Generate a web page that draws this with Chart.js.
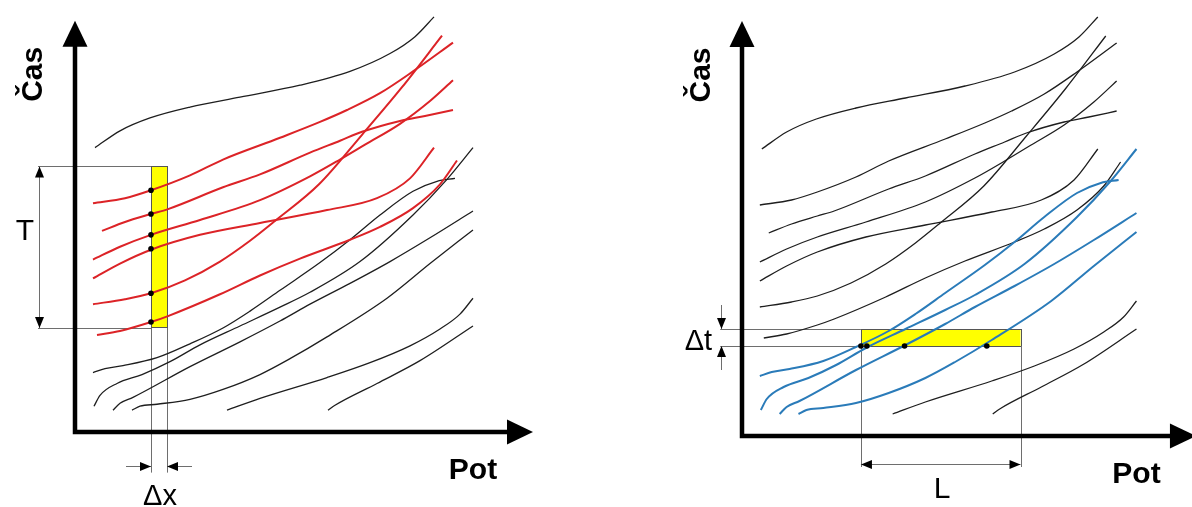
<!DOCTYPE html>
<html lang="cs">
<head>
<meta charset="utf-8">
<script src="https://cdn.jsdelivr.net/npm/chart.js@4.4.1/dist/chart.umd.min.js"></script>
<style>
  html, body { margin: 0; padding: 0; background: #fff; }
  .wrap { position: relative; width: 1192px; height: 507px; overflow: hidden; }
  .wrap canvas { position: absolute; top: 0; }
  #leftChart { left: 0; }
  #rightChart { left: 596px; }
</style>
</head>
<body>
<div class="wrap">
  <canvas id="leftChart" width="596" height="507"></canvas>
  <canvas id="rightChart" width="596" height="507"></canvas>
</div>
<script>
// trajectories, [pot, cas]
const trajA  = [[20,287],[45,304],[75,317],[115,328],[165,338],[225,350],[275,364],[315,382],[340,399],[359,419]];
const trajR1 = [[18,231],[50,236],[76,244],[115,259],[148,275],[205,297],[245,313],[272,325],[305,342],[338,364],[378,393]];
const trajR2 = [[27,203],[50,212],[76,220],[93,225],[148,247],[185,260],[235,282],[265,294],[287,303],[325,314],[350,319],[378,325]];
const trajR3 = [[18,174],[45,187],[76,199],[125,214],[185,234],[235,258],[265,275],[290,290],[325,311],[355,334],[378,355]];
const trajR4 = [[18,155],[45,170],[76,184],[125,199],[185,211],[252,224],[302,236],[335,256],[359,287]];
const trajR5 = [[18,129],[50,134],[76,140],[110,153],[145,172],[175,193],[200,213],[244,250],[287,300],[327,348],[367,400]];
const trajR6 = [[22,98],[45,102],[76,111],[93,117],[145,139],[185,158],[225,175],[275,194],[305,207],[338,226],[365,250],[382,274]];
const trajB1 = [[18,60],[30,64],[48,67],[82,75],[115,89],[148,105],[175,122],[205,143],[245,171],[275,194],[305,219],[338,243],[362,253],[380,256]];
const trajB2 = [[19,26],[25,37],[42,49],[67,58],[95,71],[125,88],[165,107],[205,126],[235,141],[285,172],[338,219],[372,255],[398,287]];
const trajB3 = [[38,22],[45,29],[58,35],[115,66],[165,91],[205,112],[235,129],[275,150],[315,172],[355,196],[398,223]];
const trajB4 = [[57,22],[65,26],[82,28],[115,33],[148,43],[185,58],[215,74],[252,96],[312,135],[355,170],[398,204]];
const trajB5 = [[152,22],[185,34],[252,55],[295,70],[335,87],[365,104],[385,119],[398,135]];
const trajB6 = [[253,22],[260,27],[302,49],[345,72],[398,107]];

// left: fixed place, interval T
const stripPot = [76, 92];
const stripCas = [105, 268];
const dotCasLeft = [244, 220, 199, 185, 140, 111];

// right: fixed time, length L
const windowPot = [120, 281];
const windowCas = [90, 107];
const dotPotRight = [120, 126, 164, 247];

const RED = '#dc2327', BLUE = '#2a7bb9', BLACK = '#1e1e1e', GUIDE = '#6e6e6e';
const FONT = '"Liberation Sans", Arial, sans-serif';

function curve(data, color, width) {
  return {
    data: data.map(([x, y]) => ({ x, y })),
    showLine: true,
    borderColor: color,
    borderWidth: width,
    pointRadius: 0,
    cubicInterpolationMode: 'monotone',
    fill: false
  };
}

function dots(points) {
  return { data: points, showLine: false, pointRadius: 2.8, pointBackgroundColor: '#000', pointBorderWidth: 0 };
}

function arrowHead(ctx, tx, ty, dx, dy, len, half) {
  ctx.beginPath();
  ctx.moveTo(tx, ty);
  ctx.lineTo(tx - dx * len - dy * half, ty - dy * len + dx * half);
  ctx.lineTo(tx - dx * len + dy * half, ty - dy * len - dx * half);
  ctx.closePath();
  ctx.fill();
}

function crisp(v) { return Math.round(v) + 0.5; }

function hLine(ctx, x, y, a, b, v) {
  ctx.beginPath();
  ctx.moveTo(x.getPixelForValue(a), crisp(y.getPixelForValue(v)));
  ctx.lineTo(x.getPixelForValue(b), crisp(y.getPixelForValue(v)));
  ctx.stroke();
}

function vLine(ctx, x, y, v, a, b) {
  ctx.beginPath();
  ctx.moveTo(crisp(x.getPixelForValue(v)), y.getPixelForValue(a));
  ctx.lineTo(crisp(x.getPixelForValue(v)), y.getPixelForValue(b));
  ctx.stroke();
}

function label(ctx, text, px, py, bold, size, rotate) {
  ctx.save();
  ctx.translate(px, py);
  if (rotate) ctx.rotate(-Math.PI / 2);
  ctx.font = (bold ? 'bold ' : '') + size + 'px ' + FONT;
  ctx.fillStyle = '#000';
  ctx.textAlign = 'center';
  ctx.textBaseline = 'middle';
  ctx.fillText(text, 0, 0);
  ctx.restore();
}

function box(ctx, x, y, pot, cas) {
  const l = x.getPixelForValue(pot[0]), r = x.getPixelForValue(pot[1]);
  const t = y.getPixelForValue(cas[1]), b = y.getPixelForValue(cas[0]);
  ctx.fillStyle = '#ffff00';
  ctx.fillRect(l, t, r - l, b - t);
  ctx.strokeStyle = '#555';
  ctx.lineWidth = 1;
  ctx.strokeRect(crisp(l), crisp(t), Math.round(r - l), Math.round(b - t));
}

const axesPlugin = {
  id: 'axesArrows',
  afterDatasetsDraw(chart) {
    const { ctx, scales: { x, y } } = chart;
    const x0 = x.getPixelForValue(0), y0 = y.getPixelForValue(0);
    const xTip = x.getPixelForValue(458), yTip = y.getPixelForValue(415);
    ctx.save();
    ctx.strokeStyle = '#000';
    ctx.fillStyle = '#000';
    ctx.lineWidth = 4.5;
    ctx.lineJoin = 'miter';
    ctx.beginPath();
    ctx.moveTo(x0, yTip + 20);
    ctx.lineTo(x0, y0);
    ctx.lineTo(xTip - 20, y0);
    ctx.stroke();
    arrowHead(ctx, x0, yTip, 0, -1, 26, 12.5);
    arrowHead(ctx, xTip, y0, 1, 0, 26, 12.5);
    label(ctx, 'Čas', x.getPixelForValue(-41), y.getPixelForValue(361), true, 30, true);
    label(ctx, 'Pot', x.getPixelForValue(398), y.getPixelForValue(-39), true, 30, false);
    ctx.restore();
  }
};

const leftGuides = {
  id: 'leftGuides',
  beforeDatasetsDraw(chart) {
    const { ctx, scales: { x, y } } = chart;
    ctx.save();
    box(ctx, x, y, stripPot, stripCas);
    ctx.strokeStyle = GUIDE;
    ctx.fillStyle = '#000';
    ctx.lineWidth = 1;
    hLine(ctx, x, y, -37, stripPot[0], stripCas[1]);
    hLine(ctx, x, y, -37, stripPot[0], stripCas[0]);
    vLine(ctx, x, y, -36, stripCas[0], stripCas[1]);
    const ax = crisp(x.getPixelForValue(-36));
    arrowHead(ctx, ax, y.getPixelForValue(stripCas[1]), 0, -1, 11, 4.5);
    arrowHead(ctx, ax, y.getPixelForValue(stripCas[0]), 0, 1, 11, 4.5);
    vLine(ctx, x, y, stripPot[0], stripCas[0], -41);
    vLine(ctx, x, y, stripPot[1], stripCas[0], -41);
    hLine(ctx, x, y, 51, stripPot[0], -34);
    hLine(ctx, x, y, stripPot[1], 117, -34);
    const ay = crisp(y.getPixelForValue(-34));
    arrowHead(ctx, x.getPixelForValue(stripPot[0]), ay, 1, 0, 11, 4.5);
    arrowHead(ctx, x.getPixelForValue(stripPot[1]), ay, -1, 0, 11, 4.5);
    label(ctx, 'T', x.getPixelForValue(-50), y.getPixelForValue(202), false, 30, false);
    label(ctx, 'Δx', x.getPixelForValue(85), y.getPixelForValue(-66), false, 29, false);
    ctx.restore();
  }
};

const rightGuides = {
  id: 'rightGuides',
  beforeDatasetsDraw(chart) {
    const { ctx, scales: { x, y } } = chart;
    ctx.save();
    box(ctx, x, y, windowPot, windowCas);
    ctx.strokeStyle = GUIDE;
    ctx.fillStyle = '#000';
    ctx.lineWidth = 1;
    hLine(ctx, x, y, -22, windowPot[0], windowCas[1]);
    hLine(ctx, x, y, -22, windowPot[0], windowCas[0]);
    vLine(ctx, x, y, windowPot[0], windowCas[0], -31);
    vLine(ctx, x, y, windowPot[1], windowCas[0], -31);
    hLine(ctx, x, y, windowPot[0], windowPot[1], -28);
    const ly = crisp(y.getPixelForValue(-28));
    arrowHead(ctx, x.getPixelForValue(windowPot[0]), ly, -1, 0, 11, 4.5);
    arrowHead(ctx, x.getPixelForValue(windowPot[1]), ly, 1, 0, 11, 4.5);
    vLine(ctx, x, y, -21, 131, windowCas[1]);
    vLine(ctx, x, y, -21, 66, windowCas[0]);
    const tx = crisp(x.getPixelForValue(-21));
    arrowHead(ctx, tx, y.getPixelForValue(windowCas[1]), 0, 1, 11, 4.5);
    arrowHead(ctx, tx, y.getPixelForValue(windowCas[0]), 0, -1, 11, 4.5);
    label(ctx, 'Δt', x.getPixelForValue(-44), y.getPixelForValue(94), false, 29, false);
    label(ctx, 'L', x.getPixelForValue(202), y.getPixelForValue(-54), false, 30, false);
    ctx.restore();
  }
};

function makeChart(id, datasets, padding, guides) {
  return new Chart(document.getElementById(id), {
    type: 'scatter',
    data: { datasets },
    options: {
      responsive: false,
      animation: false,
      devicePixelRatio: 1,
      events: [],
      layout: { padding },
      scales: {
        x: { type: 'linear', min: 0, max: 450, display: false },
        y: { type: 'linear', min: 0, max: 432, display: false }
      },
      plugins: { legend: { display: false }, tooltip: { enabled: false } }
    },
    plugins: [guides, axesPlugin]
  });
}

const redSet = [trajR1, trajR2, trajR3, trajR4, trajR5, trajR6];
const blueSet = [trajB1, trajB2, trajB3, trajB4];

makeChart('leftChart', [
  dots(dotCasLeft.map(t => ({ x: stripPot[0], y: t }))),
  ...redSet.map(d => curve(d, RED, 2)),
  ...[trajA, trajB1, trajB2, trajB3, trajB4, trajB5, trajB6].map(d => curve(d, BLACK, 1.3))
], { left: 75, right: 71, top: 0, bottom: 75 }, leftGuides);

makeChart('rightChart', [
  dots(dotPotRight.map(p => ({ x: p, y: windowCas[0] }))),
  ...blueSet.map(d => curve(d, BLUE, 2)),
  ...[trajA, ...redSet, trajB5, trajB6].map(d => curve(d, BLACK, 1.3))
], { left: 146, right: 0, top: 4, bottom: 71 }, rightGuides);
</script>
</body>
</html>
